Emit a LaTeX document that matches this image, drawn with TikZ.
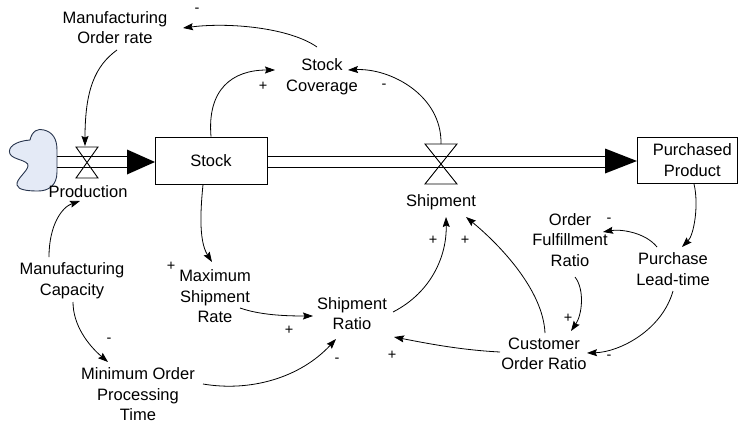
\documentclass[tikz,border=0pt]{standalone}
\usepackage{fontspec}
\setmainfont{Liberation Sans}
\usetikzlibrary{arrows.meta,calc}
\definecolor{cloudfill}{HTML}{E4EAF6}
\definecolor{cloudline}{HTML}{27344D}
\begin{document}
\begin{tikzpicture}[x=1pt,y=-1pt,
  font=\fontsize{16.5}{20.5}\selectfont,
  lbl/.style={align=center,inner sep=0pt},
  box/.style={draw,line width=0.9pt,inner sep=0pt,align=center},
  link/.style={line width=0.8pt,-{Stealth[length=10pt,width=7pt,inset=1.5pt]}},
  pipe/.style={line width=1.1pt},
  valve/.style={line width=0.9pt},
  sign/.style={font=\fontsize{14.5}{14.5}\selectfont,inner sep=0pt}]
\useasboundingbox (0,0) rectangle (741,423);

% stocks
\node[box,minimum width=112pt,minimum height=47pt] (stock) at (211,160.5) {Stock};
\node[box,minimum width=100.5pt,minimum height=46.5pt] (pp) at (687.25,160.25) {};
\node[lbl] (ppt) at ($(pp)+(5,0)$) {Purchased\\Product};

% source cloud
\draw[cloudline,fill=cloudfill,line width=0.9pt]
  (30,140) .. controls (32,131) and (38,128) .. (44,130)
  .. controls (52,132) and (57,138) .. (57,150) -- (57,172)
  .. controls (57,186) and (48,191) .. (38,191)
  .. controls (28,191) and (18,190) .. (17,185)
  .. controls (16,179) and (27,172) .. (28,166)
  .. controls (29,160) and (13,160) .. (10,154)
  .. controls (7,147) and (16,141) .. (30,140) -- cycle;
\coordinate (src) at (57,162);

% flow pipes
\draw[pipe] ($(src)+(0,-5.5)$) -- (127,156.5);
\draw[pipe] ($(src)+(0,5.5)$) -- (127,167.5);
\fill (127,149.5) -- (155,162) -- (127,174.5) -- cycle;
\draw[pipe] (267,156.5) -- (605,156.5);
\draw[pipe] (267,167.5) -- (605,167.5);
\fill (605,148.5) -- (637,161) -- (605,173.5) -- cycle;

% valves
\coordinate (pv) at (87,162.5);
\coordinate (sv) at (441,164);
\draw[valve] ($(pv)+(-11,-15.5)$) -- ($(pv)+(11,-15.5)$) -- ($(pv)+(-11,15.5)$) -- ($(pv)+(11,15.5)$) -- cycle;
\draw[valve] ($(sv)+(-16,-20)$) -- ($(sv)+(16,-20)$) -- ($(sv)+(-16,20)$) -- ($(sv)+(16,20)$) -- cycle;

% variables
\node[lbl] (mor)   at (115,27.5)  {Manufacturing\\Order rate};
\node[lbl] (sc)    at (322,76.5)  {Stock\\Coverage};
\node[lbl] (prodl) at (88,192)    {Production};
\node[lbl] (shipl) at (441,202)   {Shipment};
\node[lbl] (mc)    at (72,280.5)  {Manufacturing\\Capacity};
\node[lbl] (msr)   at (215,296.5) {Maximum\\Shipment\\Rate};
\node[lbl] (sr)    at (352,313.5) {Shipment\\Ratio};
\node[lbl] (mopt)  at (138,394.5) {Minimum Order\\Processing\\Time};
\node[lbl] (ofr)   at (570,240)   {Order\\Fulfillment\\Ratio};
\node[lbl] (plt)   at (673,269)   {Purchase\\Lead-time};
\node[lbl] (cor)   at (544,354)   {Customer\\Order Ratio};

% causal links
\draw[link] ($(mor)+(2,22.5)$) .. controls +(-22,16) and +(0,-56) .. ($(pv)+(-2,-16.5)$);
\draw[link] ($(sc)+(-5,-29.5)$) .. controls +(-27,-19) and +(47,-6) .. ($(mor)+(68,0.5)$);
\draw[link] (stock.north) .. controls +(-4,-47) and +(-43,0) .. ($(sc)+(-47,-6.5)$);
\draw[link] ($(sv)+(0,-20)$) .. controls +(1,-49) and +(42,-2) .. ($(sc)+(26,-6.5)$);
\draw[link] ($(stock.south)+(-8,0)$) .. controls +(-2,21) and +(-14,-22) .. ($(msr)+(-3,-34.5)$);
\draw[link] ($(mc)+(-23,-23.5)$) .. controls +(0,-32) and +(-18,6) .. ($(prodl)+(-8,9)$);
\draw[link] ($(mc)+(1,21.5)$) .. controls +(0,23) and +(-20,-17) .. ($(mopt)+(-30,-32.5)$);
\draw[link] ($(msr)+(25,11.5)$) .. controls +(20,7) and +(-28,0) .. ($(sr)+(-39,2.5)$);
\draw[link] ($(mopt)+(65,-10.5)$) .. controls +(47,8) and +(-36,39) .. ($(sr)+(-16,25.5)$);
\draw[link] ($(sr)+(41,-1.5)$) .. controls +(39,-20) and +(1,38) .. ($(shipl)+(5,15)$);
\draw[link] ($(cor)+(1,-21)$) .. controls +(-2,-43) and +(34,28) .. ($(shipl)+(25,15)$);
\draw[link] ($(cor)+(-44,-2)$) .. controls +(-40,-2) and +(31,6) .. ($(sr)+(42,23.5)$);
\draw[link] ($(ofr)+(5,37)$) .. controls +(10,13) and +(11,-16) .. ($(cor)+(27,-23)$);
\draw[link] ($(plt)+(-16,-22)$) .. controls +(-12,-15) and +(17,-3) .. ($(ofr)+(33,-8)$);
\draw[link] ($(pp.south)+(6.75,0)$) .. controls +(5,21) and +(12,-12) .. ($(plt)+(9,-22)$);
\draw[link] ($(plt)+(0,22)$) .. controls +(-11,39) and +(33,-1) .. ($(cor)+(43,-1)$);

% polarities
\node[sign] (s1)  at (197,10)  {-};
\node[sign] (s2)  at (263,86)  {+};
\node[sign] (s3)  at (384,86)  {-};
\node[sign] (s4)  at (171,266) {+};
\node[sign] (s5)  at (109,340) {-};
\node[sign] (s6)  at (289,330) {+};
\node[sign] (s7)  at (337,360) {-};
\node[sign] (s8)  at (433,240) {+};
\node[sign] (s9)  at (465,240) {+};
\node[sign] (s10) at (609,220) {-};
\node[sign] (s11) at (568,318) {+};
\node[sign] (s12) at (392,355) {+};
\node[sign] (s13) at (609,357) {-};
\end{tikzpicture}
\end{document}
